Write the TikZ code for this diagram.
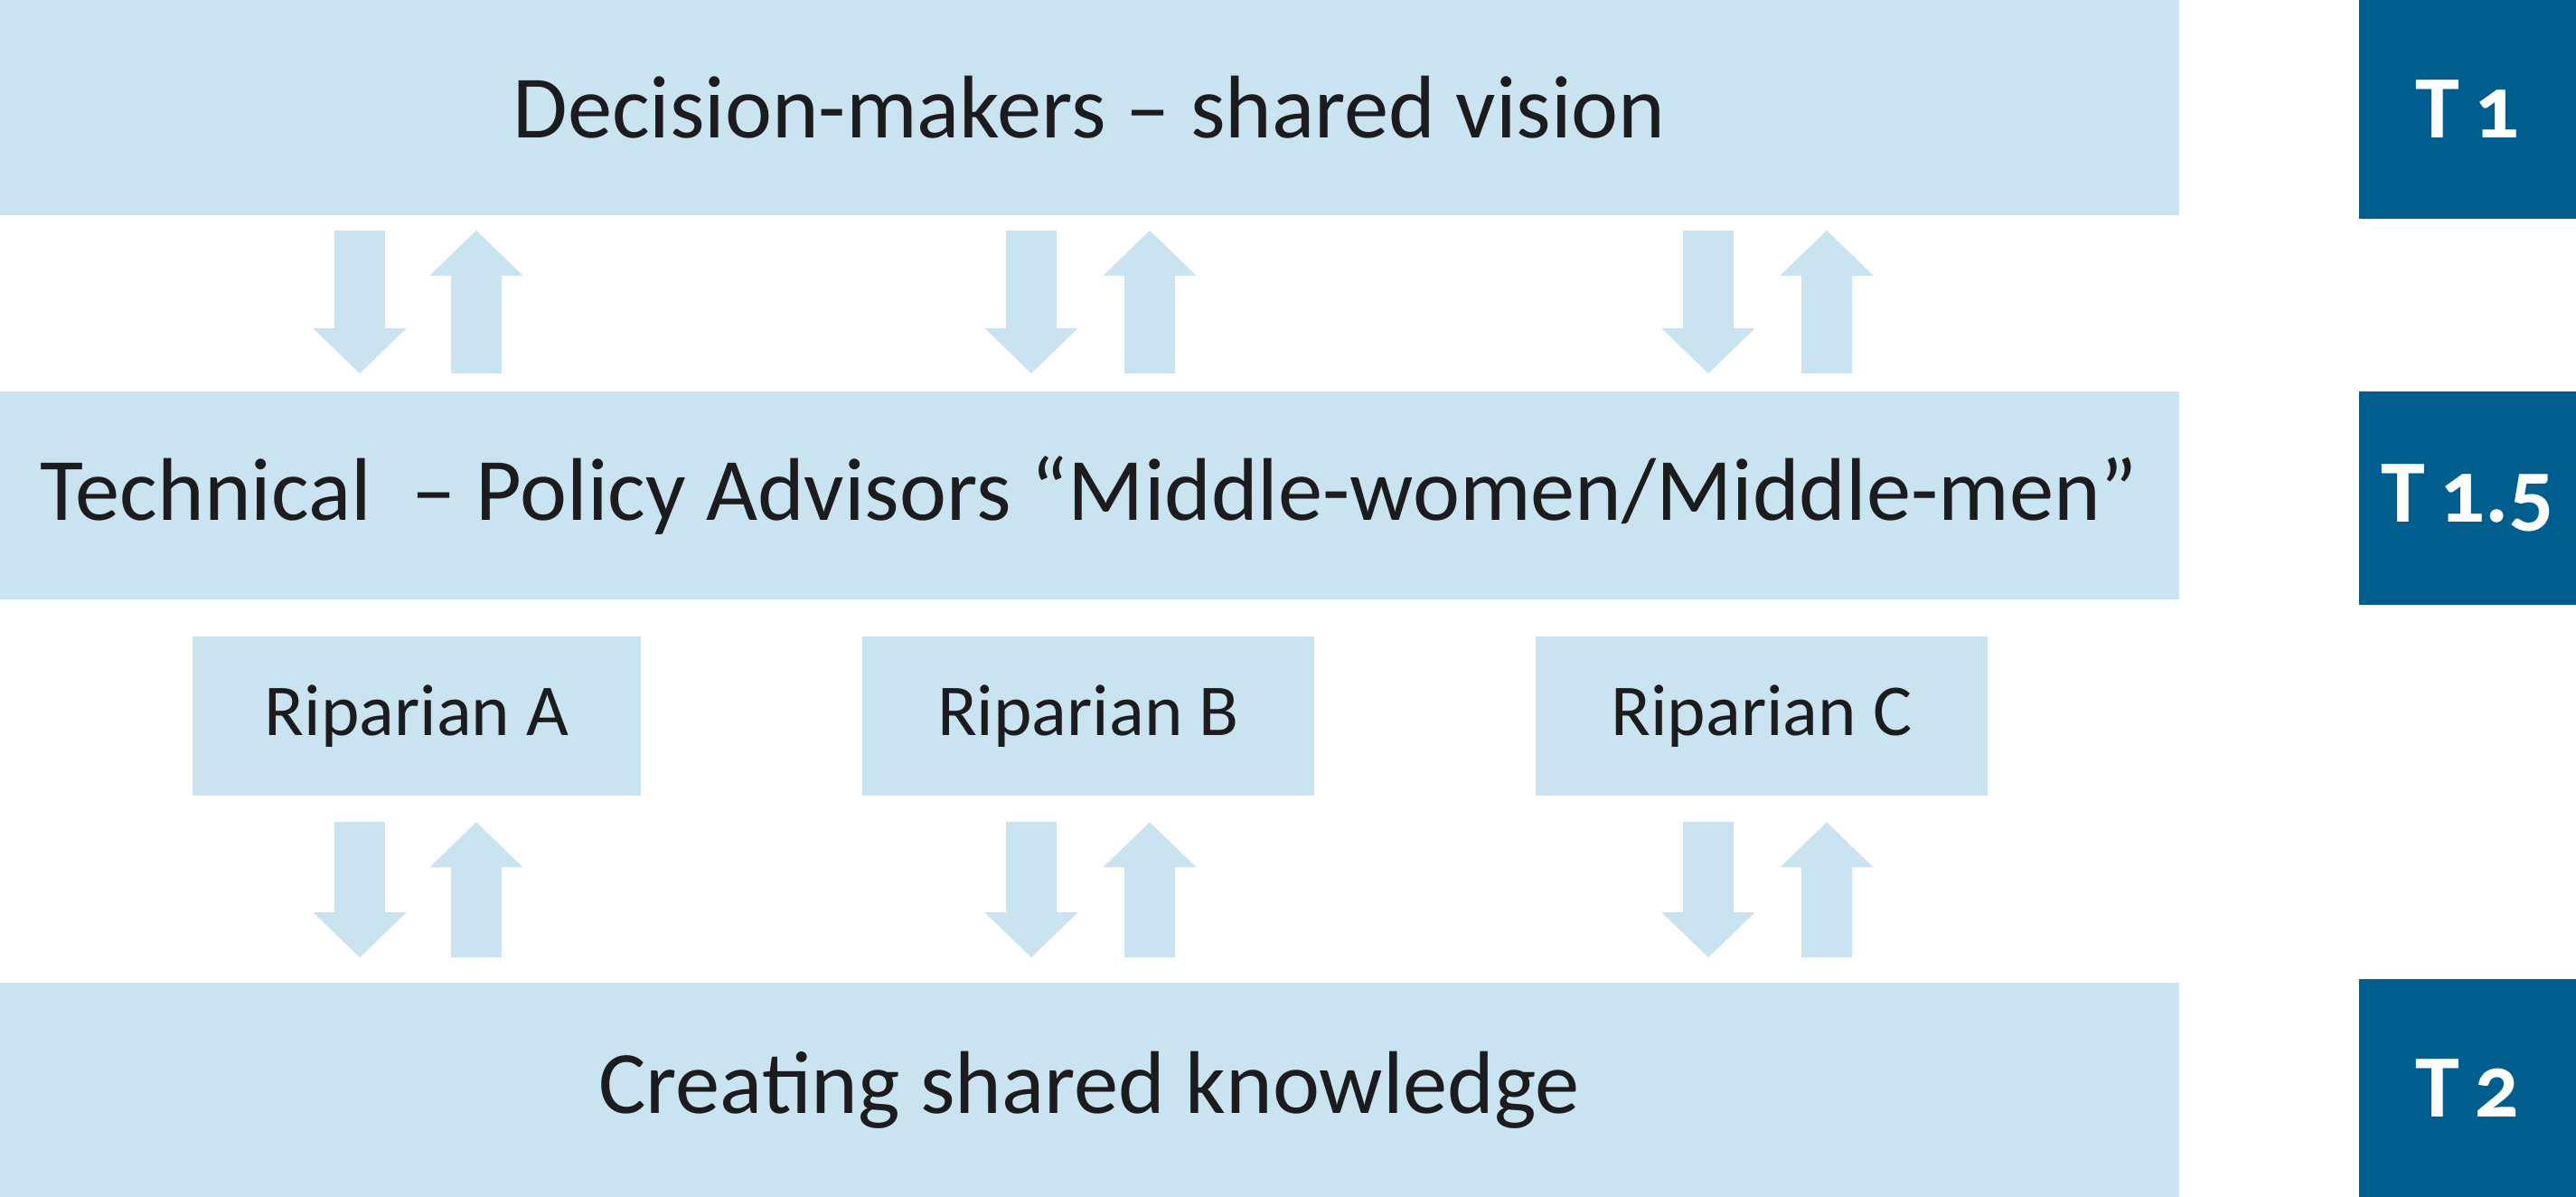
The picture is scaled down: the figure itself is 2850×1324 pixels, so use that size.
\documentclass[tikz,border=0pt]{standalone}
\usepackage{fontspec}
\setmainfont[Numbers=OldStyle]{Carlito}
\usetikzlibrary{arrows.meta}
\definecolor{lightb}{RGB}{201,228,240}
\definecolor{darkb}{RGB}{0,94,142}
\definecolor{txt}{RGB}{28,28,30}
\tikzset{
  x=0.01cm, y=-0.01cm,
  bar/.style={fill=lightb, draw=none, inner sep=0pt, minimum width=24.1cm, text=txt, font=\fontsize{28}{32}\selectfont},
  ripbox/.style={fill=lightb, draw=none, inner sep=0pt, minimum width=5cm, minimum height=1.75cm, text=txt, font=\fontsize{23}{27}\selectfont},
  tbox/.style={fill=darkb, draw=none, inner sep=0pt, minimum width=2.4cm, text=white, font=\bfseries\fontsize{28}{32}\selectfont},
  barrow/.style={draw=lightb, line width=0.56cm, -{Triangle[width=1.0cm,length=0.5cm]}}
}
\begin{document}
\begin{tikzpicture}
\useasboundingbox (0,0) rectangle (2850,1324);
\node[bar, minimum height=2.38cm] (top) at (1205,119) {Decision-makers – shared vision};
\node[bar, minimum height=2.30cm] (tech) at (1205,548) {Technical \ – Policy Advisors “Middle-women/Middle-men”};
\node[bar, minimum height=2.37cm] (bot) at (1205,1205.5) {Creating shared knowledge};
\node[ripbox, minimum width=4.96cm] (ra) at (461,792) {Riparian A};
\node[ripbox] (rb) at (1204,792) {Riparian B};
\node[ripbox] (rc) at (1949,792) {Riparian C};
\node[tbox, minimum height=2.42cm] (t1) at (2730,121) {T\,1};
\node[tbox, minimum height=2.36cm] (t15) at (2730,551) {T\,1.5};
\node[tbox, minimum height=2.41cm] (t2) at (2730,1203.5) {T\,2};
\foreach \d/\u in {398/527, 1141/1272, 1890/2021}{
  \draw[barrow, shorten <=0.16cm, shorten >=0.19cm] (\d,0 |- top.south) -- (\d,0 |- tech.north);
  \draw[barrow, shorten <=0.19cm, shorten >=0.16cm] (\u,0 |- tech.north) -- (\u,0 |- top.south);
  \draw[barrow, shorten <=0.29cm, shorten >=0.27cm] (\d,0 |- ra.south) -- (\d,0 |- bot.north);
  \draw[barrow, shorten <=0.27cm, shorten >=0.29cm] (\u,0 |- bot.north) -- (\u,0 |- ra.south);
}
\end{tikzpicture}
\end{document}
